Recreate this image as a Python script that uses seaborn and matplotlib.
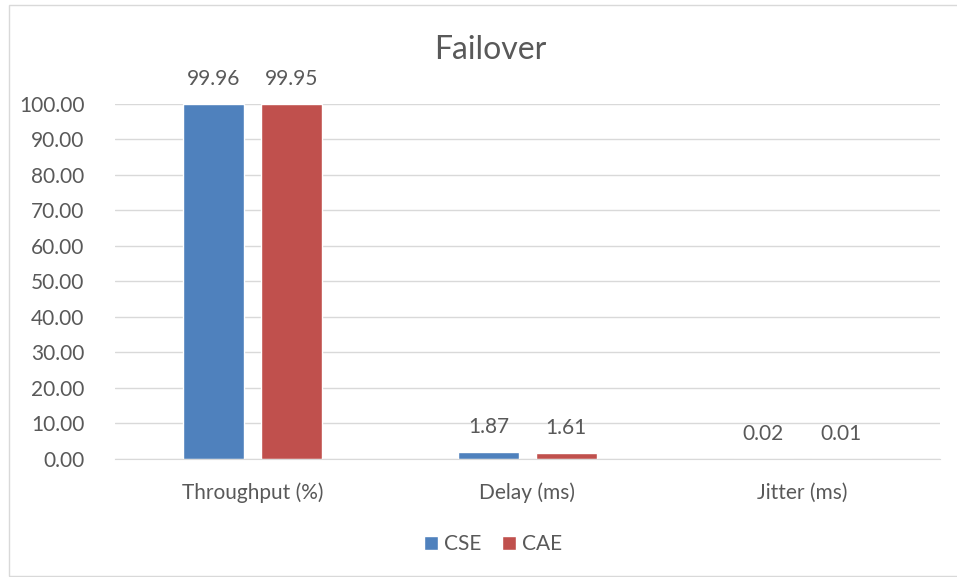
import numpy as np
import pandas as pd
import seaborn as sns
import matplotlib.pyplot as plt
from matplotlib.patches import Rectangle

# 데이터
categories = ['Throughput (%)', 'Delay (ms)', 'Jitter (ms)']
cse = [99.96, 1.87, 0.02]
cae = [99.95, 1.61, 0.01]
series = ['CSE', 'CAE']

df = pd.DataFrame({
    'metric': categories * 2,
    'value': cse + cae,
    'series': ['CSE'] * 3 + ['CAE'] * 3,
})

sns.set_style('white')
plt.rcParams['font.family'] = ['Lato', 'DejaVu Sans']
txt = '#595959'

fig = plt.figure(figsize=(9.57, 5.77), dpi=100)
ax = fig.add_axes([0.120, 0.2045, 0.862, 0.6155])

sns.barplot(data=df, x='metric', y='value', hue='series', order=categories,
            hue_order=series, palette=['#4F81BD', '#C0504D'],
            width=0.567, gap=0.22, saturation=1, ax=ax, legend=True)

for cont in ax.containers:
    ax.bar_label(cont, fmt='%.2f', padding=11, fontsize=15, color=txt)

ax.set_ylim(0, 100)
ax.set_xlim(-0.5, 2.5)
ax.set_yticks(np.arange(0, 101, 10))
ax.set_yticklabels([f'{v:.2f}' for v in range(0, 101, 10)])
ax.yaxis.grid(True, color='#D9D9D9', lw=1)
ax.set_axisbelow(True)
for s in ['top', 'right', 'left']:
    ax.spines[s].set_visible(False)
ax.spines['bottom'].set_color('#D9D9D9')
ax.tick_params(axis='y', length=0, labelsize=15, labelcolor=txt, pad=22)
ax.tick_params(axis='x', length=0, labelsize=15, labelcolor=txt, pad=17)
ax.set_xlabel('')
ax.set_ylabel('')
fig.text(490 / 957, 1 - 50 / 577, 'Failover', fontsize=23, color=txt,
         ha='center', va='center')

ax.legend(loc='center', bbox_to_anchor=(0.5 - 34 / 825, -0.24), ncol=2,
          frameon=False, fontsize=15, labelcolor=txt, handlelength=0.65,
          handleheight=0.65, handletextpad=0.3, columnspacing=1.0)

# 테두리
fig.patches.append(Rectangle((9 / 957, 0.002), 0.995, 1 - 5 / 577 - 0.002,
                             transform=fig.transFigure, fill=False,
                             edgecolor='#D9D9D9', lw=1))

plt.savefig('out.png', dpi=100)
